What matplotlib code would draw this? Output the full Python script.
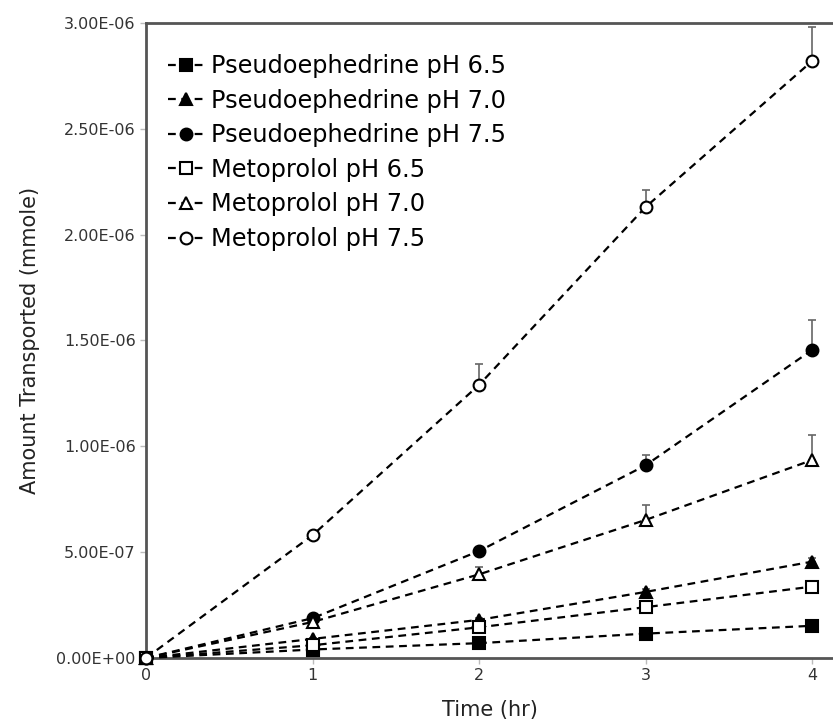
import matplotlib
matplotlib.use('Agg')
import matplotlib.pyplot as plt
import numpy as np

# time points (hr)
time = [0, 1, 2, 3, 4]

# amount transported (mmole)
pse_65 = [0, 4.0e-8, 7.0e-8, 1.15e-7, 1.52e-7]
pse_70 = [0, 9.0e-8, 1.8e-7, 3.12e-7, 4.55e-7]
pse_75 = [0, 1.88e-7, 5.05e-7, 9.1e-7, 1.455e-6]
met_65 = [0, 6.0e-8, 1.45e-7, 2.4e-7, 3.37e-7]
met_70 = [0, 1.7e-7, 3.95e-7, 6.52e-7, 9.35e-7]
met_75 = [0, 5.8e-7, 1.29e-6, 2.13e-6, 2.82e-6]

# upper error bars
pse_65_err = [0, 5e-9, 5e-9, 1e-8, 1e-8]
pse_70_err = [0, 5e-9, 1e-8, 1.5e-8, 1.5e-8]
pse_75_err = [0, 1e-8, 1.5e-8, 5e-8, 1.4e-7]
met_65_err = [0, 5e-9, 1e-8, 1.5e-8, 1.5e-8]
met_70_err = [0, 1e-8, 3.5e-8, 7e-8, 1.2e-7]
met_75_err = [0, 1e-8, 1.0e-7, 8e-8, 1.6e-7]

labels = ['Pseudoephedrine pH 6.5', 'Pseudoephedrine pH 7.0', 'Pseudoephedrine pH 7.5',
          'Metoprolol pH 6.5', 'Metoprolol pH 7.0', 'Metoprolol pH 7.5']
series = [pse_65, pse_70, pse_75, met_65, met_70, met_75]
errors = [pse_65_err, pse_70_err, pse_75_err, met_65_err, met_70_err, met_75_err]
markers = ['s', '^', 'o', 's', '^', 'o']
faces = ['black', 'black', 'black', 'white', 'white', 'white']

fig = plt.figure(figsize=(8.33, 7.26), dpi=100)
ax = fig.add_axes([0.1753, 0.0937, 0.8247, 0.8746])

for y, e, m, fc, lab in zip(series, errors, markers, faces, labels):
    ax.errorbar(time, y, yerr=[np.zeros(len(e)), e], fmt='none', ecolor='#666666',
                elinewidth=1.2, capsize=3, capthick=1.2, zorder=2)
    ax.plot(time, y, linestyle=(0, (3.5, 2.5)), color='black', linewidth=1.6,
            marker=m, markersize=8.5, markerfacecolor=fc, markeredgecolor='black',
            markeredgewidth=1.5, label=lab, zorder=3, clip_on=False)

ax.set_xlim(0, 4.126)
ax.set_ylim(0, 3e-6)
ax.set_xticks([0, 1, 2, 3, 4])
ax.set_yticks(np.arange(0, 3.01e-6, 5e-7))
ax.set_yticklabels(['0.00E+00', '5.00E-07', '1.00E-06', '1.50E-06',
                    '2.00E-06', '2.50E-06', '3.00E-06'])

for s in ['left', 'bottom', 'top']:
    ax.spines[s].set_color('#555555')
    ax.spines[s].set_linewidth(2)
ax.spines['right'].set_visible(False)
ax.tick_params(axis='both', colors='#bbbbbb', labelcolor='#333333', labelsize=11.5,
               length=4, width=1)

ax.set_xlabel('Time (hr)', fontsize=15, color='#222222', labelpad=12)
ax.set_ylabel('Amount Transported (mmole)', fontsize=15, color='#222222', labelpad=12)

ax.legend(loc='upper left', bbox_to_anchor=(0.0, 0.985), frameon=False, fontsize=17.3,
          handlelength=1.5, handletextpad=0.3, labelspacing=0.44, borderaxespad=0.5)

fig.savefig('out.png', dpi=100)
